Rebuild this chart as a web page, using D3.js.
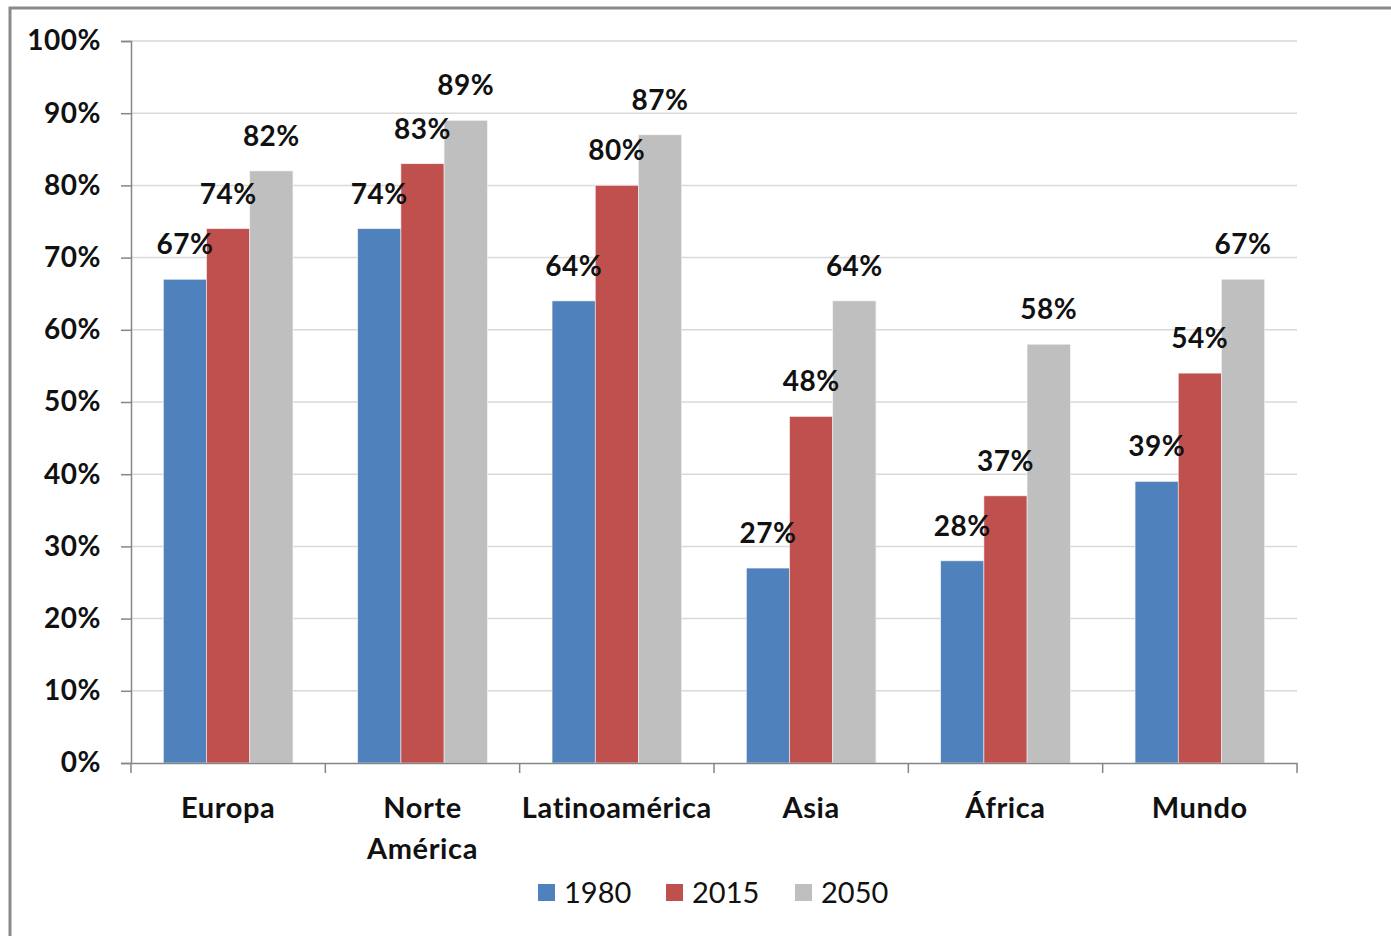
<!DOCTYPE html>
<html>
<head>
<meta charset="utf-8">
<script src="https://cdn.jsdelivr.net/npm/d3@7"></script>
<style>
  body { margin: 0; background: #fff; }
  svg { display: block; font-family: Lato, "Open Sans", sans-serif; }
</style>
</head>
<body>
<svg id="chart" width="1391" height="936"></svg>
<script>
// datos del gráfico
var categorias = ["Europa", "Norte América", "Latinoamérica", "Asia", "África", "Mundo"];
var series = ["1980", "2015", "2050"];
var v1980 = [67, 74, 64, 27, 28, 39];
var v2015 = [74, 83, 80, 48, 37, 54];
var v2050 = [82, 89, 87, 64, 58, 67];
var colores = ["#4F81BD", "#C0504D", "#BFBFBF"];
var ticksY = [0, 10, 20, 30, 40, 50, 60, 70, 80, 90, 100];

var valores = [v1980, v2015, v2050];

var svg = d3.select("#chart");

// marco exterior
svg.append("rect")
  .attr("x", 10).attr("y", 8)
  .attr("width", 1400).attr("height", 960)
  .attr("fill", "none")
  .attr("stroke", "#8a8a8a")
  .attr("stroke-width", 3);

var margen = { izq: 131, der: 1297, arriba: 41, abajo: 763 };

var x = d3.scaleBand()
  .domain(categorias)
  .range([margen.izq, margen.der])
  .padding(0);

var ancho = x.bandwidth() / 4.5; // gap 150%
var y = d3.scaleLinear().domain([0, 100]).range([margen.abajo, margen.arriba]);

// lineas de cuadricula
svg.append("g")
  .selectAll("line")
  .data(ticksY.filter(function(d) { return d > 0; }))
  .enter()
  .append("line")
  .attr("x1", margen.izq).attr("x2", margen.der)
  .attr("y1", function(d) { return y(d); })
  .attr("y2", function(d) { return y(d); })
  .attr("stroke", "#d9d9d9")
  .attr("stroke-width", 1.5);

// barras
categorias.forEach(function(cat, i) {
  series.forEach(function(s, j) {
    var v = valores[j][i];
    var bx = x(cat) + ancho * 0.75 + j * ancho;
    svg.append("rect")
      .attr("x", bx)
      .attr("y", y(v))
      .attr("width", ancho)
      .attr("height", y(0) - y(v))
      .attr("fill", colores[j])
      .attr("stroke", "#f2f2f2")
      .attr("stroke-width", 0.6);
  });
});

// etiquetas de valores (encima de las barras, por orden)
categorias.forEach(function(cat, i) {
  series.forEach(function(s, j) {
    var v = valores[j][i];
    var bx = x(cat) + ancho * 0.75 + j * ancho;
    svg.append("text")
      .attr("x", bx + ancho / 2)
      .attr("y", y(v) - 25)
      .attr("text-anchor", "middle")
      .attr("font-size", "28px")
      .attr("font-weight", "bold")
      .attr("letter-spacing", "0.5px")
      .attr("fill", "#111")
      .text(v + "%");
  });
});

// eje Y
var ejeY = d3.axisLeft(y)
  .tickValues(ticksY)
  .tickSize(10)
  .tickPadding(20)
  .tickFormat(function(d) { return d + "%"; });

var gY = svg.append("g")
  .attr("transform", "translate(" + margen.izq + ",0)")
  .call(ejeY);
gY.selectAll("line, path").attr("stroke", "#868686").attr("stroke-width", 1.5);
gY.selectAll("text")
  .attr("font-size", "28px")
  .attr("font-weight", "bold")
  .attr("letter-spacing", "0.5px")
  .attr("fill", "#111")
  .attr("font-family", "Lato, sans-serif");

// eje X
var ejeX = d3.axisBottom(x).tickSize(0).tickFormat("");
var gX = svg.append("g")
  .attr("transform", "translate(0," + margen.abajo + ")")
  .call(ejeX);
gX.select("path").attr("stroke", "#868686").attr("stroke-width", 1.5);

// marcas entre categorias
svg.append("g")
  .selectAll("line")
  .data(categorias.concat(["fin"]))
  .enter()
  .append("line")
  .attr("x1", function(d, i) { return margen.izq + i * x.bandwidth(); })
  .attr("x2", function(d, i) { return margen.izq + i * x.bandwidth(); })
  .attr("y1", margen.abajo)
  .attr("y2", margen.abajo + 10)
  .attr("stroke", "#868686")
  .attr("stroke-width", 1.5);

// nombres de categorias (con salto de linea)
var etiquetas = svg.append("g")
  .selectAll("text")
  .data(categorias)
  .enter()
  .append("text")
  .attr("x", function(d) { return x(d) + x.bandwidth() / 2; })
  .attr("y", 818)
  .attr("text-anchor", "middle")
  .attr("font-size", "29px")
  .attr("font-weight", "bold")
  .attr("letter-spacing", "0.6px")
  .attr("fill", "#111");

etiquetas.each(function(d) {
  var partes = d === "Norte América" ? d.split(" ") : [d];
  var t = d3.select(this);
  partes.forEach(function(p, k) {
    t.append("tspan")
      .attr("x", x(d) + x.bandwidth() / 2)
      .attr("dy", k === 0 ? 0 : 41)
      .text(p);
  });
});

// leyenda
var posLeyenda = [538, 666, 795];
var leyenda = svg.append("g")
  .selectAll("g")
  .data(series)
  .enter()
  .append("g")
  .attr("transform", function(d, i) { return "translate(" + posLeyenda[i] + ",884)"; });

leyenda.append("rect")
  .attr("width", 17).attr("height", 17)
  .attr("fill", function(d, i) { return colores[i]; });

leyenda.append("text")
  .attr("x", 26)
  .attr("y", 19)
  .attr("font-size", "29px")
  .attr("fill", "#111")
  .text(function(d) { return d; });
</script>
</body>
</html>
